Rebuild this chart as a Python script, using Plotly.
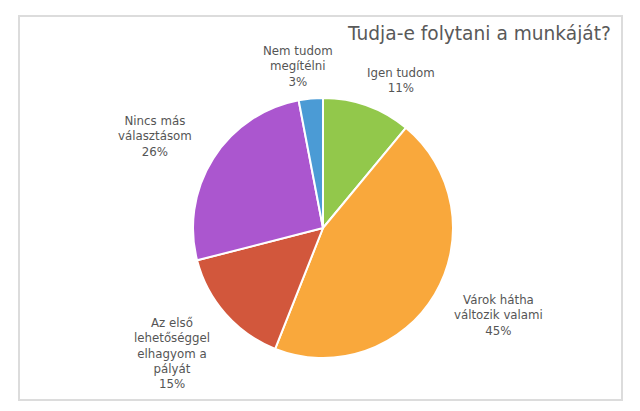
import plotly.graph_objects as go

categories = ["Igen tudom", "Várok hátha változik valami", "Az első lehetőséggel elhagyom a pályát",
              "Nincs más választásom", "Nem tudom megítélni"]
label_lines = ["Igen tudom", "Várok hátha<br>változik valami", "Az első<br>lehetőséggel<br>elhagyom a<br>pályát",
               "Nincs más<br>választásom", "Nem tudom<br>megítélni"]
values = [11, 45, 15, 26, 3]
colors = ["#92c84b", "#f9a83c", "#d2573c", "#ab56cf", "#4b9bd5"]
title = "Tudja-e folytani a munkáját?"

W, H = 640, 411
cx, cy, R = 323, 228, 130
# label block centres in pixels (layout)
label_pos = [(401, 80), (498, 315), (172, 353), (155, 136), (298, 66)]

fig = go.Figure(go.Pie(
    labels=categories, values=values, sort=False, direction="clockwise", rotation=0,
    marker=dict(colors=colors, line=dict(color="white", width=2)),
    textinfo="none", hoverinfo="label+percent", showlegend=False,
    domain=dict(x=[(cx - R) / W, (cx + R) / W], y=[(H - cy - R) / H, (H - cy + R) / H]),
))

total = sum(values)
ann = []
for lab, v, (px, py) in zip(label_lines, values, label_pos):
    ann.append(dict(x=px / W, y=1 - py / H, xref="paper", yref="paper",
                    text=f"{lab}<br>{round(v / total * 100)}%", showarrow=False,
                    font=dict(family="DejaVu Sans", size=11.8, color="#555555"),
                    align="center", xanchor="center", yanchor="middle"))

ann.append(dict(x=613 / W, y=1 - 33 / H, xref="paper", yref="paper", text=title, showarrow=False,
                font=dict(family="DejaVu Sans", size=18.6, color="#595959"),
                xanchor="right", yanchor="middle"))

fig.update_layout(
    width=W, height=H, margin=dict(l=0, r=0, t=0, b=0),
    paper_bgcolor="white", plot_bgcolor="white",
    annotations=ann,
    shapes=[dict(type="rect", xref="paper", yref="paper", x0=19 / W, x1=622 / W, y0=1 - 400 / H, y1=1 - 16 / H,
                 line=dict(color="#dcdcdc", width=2))],
)
fig.write_html("out.html", config={"displayModeBar": False},
               post_script="document.body.style.margin='0';")
